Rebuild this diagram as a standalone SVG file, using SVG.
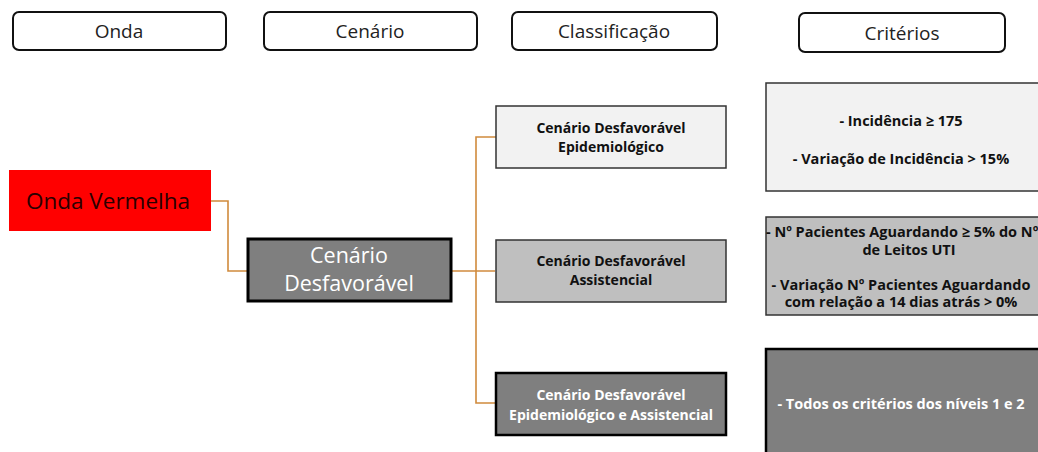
<svg xmlns="http://www.w3.org/2000/svg" width="1038" height="452" viewBox="0 0 1038 452">
<style>
.hdr{fill:#fff;stroke:#111;stroke-width:2}
.ht{font-family:"Open Sans","Noto Sans",sans-serif;font-size:19px;fill:#222;text-anchor:middle}
.bt{font-family:"Open Sans","Noto Sans",sans-serif;font-weight:bold;font-size:14px;text-anchor:middle}
.ct{font-family:"Open Sans","Noto Sans",sans-serif;font-weight:bold;font-size:14.5px;text-anchor:middle}
.conn{fill:none;stroke:#d08a3c;stroke-width:1.6}
</style>
<rect width="1038" height="452" fill="#fff"/>
<g id="h-onda"><rect class="hdr" x="13" y="12" width="213" height="38" rx="6"/><text class="ht" x="119" y="38">Onda</text></g>
<g id="h-cenario"><rect class="hdr" x="264" y="12" width="213" height="38" rx="6"/><text class="ht" x="370" y="38">Cenário</text></g>
<g id="h-class"><rect class="hdr" x="512" y="12" width="205" height="38" rx="6"/><text class="ht" x="614" y="38">Classificação</text></g>
<g id="h-crit"><rect class="hdr" x="799" y="13" width="206" height="39" rx="6"/><text class="ht" x="902" y="40">Critérios</text></g>

<g id="connectors">
<polyline class="conn" points="211,201 228,201 228,271 247,271"/>
<line class="conn" x1="452" y1="271" x2="495" y2="271"/>
<polyline class="conn" points="496,137 476,137 476,403 496,403"/>
</g>

<g id="onda-vermelha"><rect x="9" y="170" width="202" height="61" fill="#ff0000"/><text x="108" y="209" font-family="'Open Sans','Noto Sans',sans-serif" font-size="22.5" fill="#2a0000" text-anchor="middle">Onda Vermelha</text></g>

<g id="cenario-desfavoravel"><rect x="248" y="239" width="203" height="62" fill="#7f7f7f" stroke="#000" stroke-width="3"/>
<text font-family="'Open Sans','Noto Sans',sans-serif" font-size="21.5" fill="#fff" text-anchor="middle"><tspan x="349" y="263">Cenário</tspan><tspan x="349" y="291">Desfavorável</tspan></text></g>

<g id="class-epi"><rect x="496" y="106" width="230" height="62" fill="#f2f2f2" stroke="#333" stroke-width="1.5"/>
<text class="bt" fill="#111"><tspan x="611" y="133">Cenário Desfavorável</tspan><tspan x="611" y="152">Epidemiológico</tspan></text></g>

<g id="class-assist"><rect x="496" y="240" width="230" height="62" fill="#bfbfbf" stroke="#333" stroke-width="1.5"/>
<text class="bt" fill="#111"><tspan x="611" y="266">Cenário Desfavorável</tspan><tspan x="611" y="285">Assistencial</tspan></text></g>

<g id="class-both"><rect x="496" y="373" width="230" height="62" fill="#7f7f7f" stroke="#000" stroke-width="2.5"/>
<text class="bt" fill="#fff"><tspan x="611" y="400">Cenário Desfavorável</tspan><tspan x="611" y="420">Epidemiológico e Assistencial</tspan></text></g>

<g id="crit-1"><rect x="766" y="83" width="290" height="108" fill="#f2f2f2" stroke="#333" stroke-width="1.5"/>
<text class="ct" fill="#111"><tspan x="901" y="126">- Incidência ≥ 175</tspan><tspan x="901" y="164">- Variação de Incidência &gt; 15%</tspan></text></g>

<g id="crit-2"><rect x="766" y="217" width="290" height="98" fill="#bfbfbf" stroke="#333" stroke-width="1.5"/>
<text class="ct" fill="#111"><tspan x="766" y="237" text-anchor="start">- Nº Pacientes Aguardando ≥ 5% do Nº</tspan><tspan x="909" y="255">de Leitos UTI</tspan><tspan x="901" y="290">- Variação Nº Pacientes Aguardando</tspan><tspan x="901" y="307">com relação a 14 dias atrás &gt; 0%</tspan></text></g>

<g id="crit-3"><rect x="766" y="349" width="290" height="120" fill="#7f7f7f" stroke="#000" stroke-width="2.5"/>
<text class="ct" fill="#fff" x="901" y="409" font-size="15.5">- Todos os critérios dos níveis 1 e 2</text></g>
</svg>
